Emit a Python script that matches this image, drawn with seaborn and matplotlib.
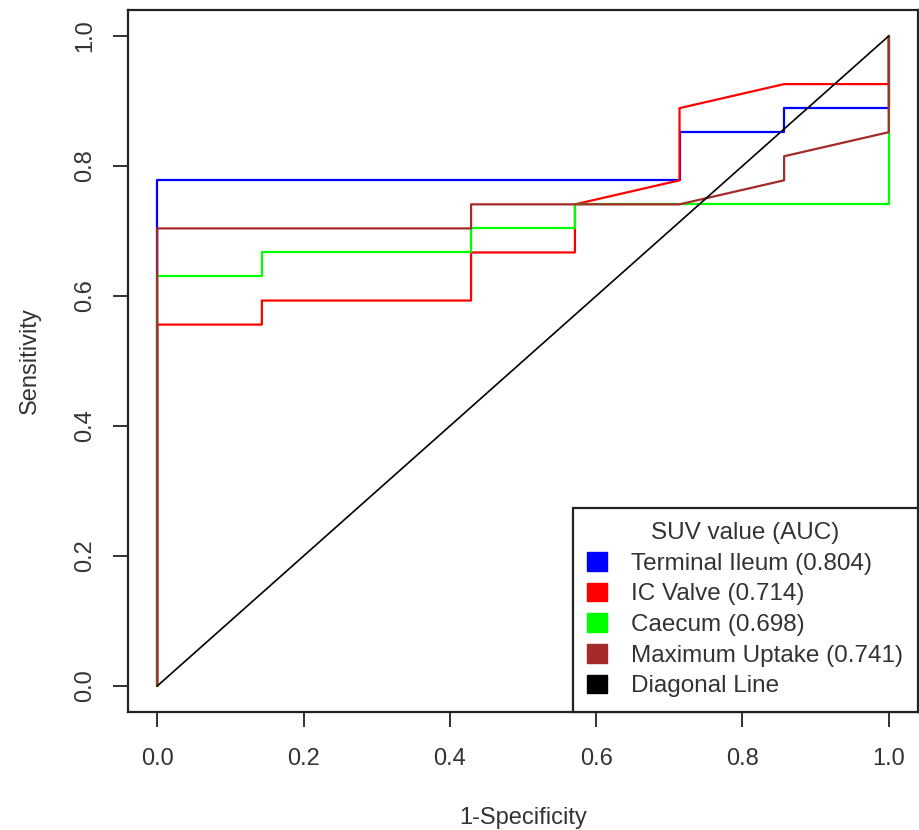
import matplotlib
matplotlib.use("Agg")
import matplotlib.pyplot as plt
from matplotlib.patches import Patch
import seaborn as sns
import pandas as pd

# ROC curves (1-specificity, sensitivity)
ileum_fpr = [0, 0, 0.714, 0.714, 0.857, 0.857, 1, 1]
ileum_tpr = [0, 0.778, 0.778, 0.852, 0.852, 0.889, 0.889, 1]

valve_fpr = [0, 0, 0.143, 0.143, 0.429, 0.429, 0.571, 0.571, 0.714, 0.714, 0.857, 1, 1]
valve_tpr = [0, 0.556, 0.556, 0.593, 0.593, 0.667, 0.667, 0.741, 0.778, 0.889, 0.926, 0.926, 1]

caecum_fpr = [0, 0, 0.143, 0.143, 0.429, 0.429, 0.571, 0.571, 1, 1]
caecum_tpr = [0, 0.630, 0.630, 0.667, 0.667, 0.704, 0.704, 0.741, 0.741, 1]

maxup_fpr = [0, 0, 0.429, 0.429, 0.714, 0.857, 0.857, 1, 1]
maxup_tpr = [0, 0.704, 0.704, 0.741, 0.741, 0.778, 0.815, 0.852, 1]

diag_fpr = [0, 1]
diag_tpr = [0, 1]

labels = ["Terminal Ileum (0.804)", "IC Valve (0.714)", "Caecum (0.698)",
          "Maximum Uptake (0.741)", "Diagonal Line"]
colors = ["#0000FF", "#FF0000", "#00FF00", "#A52A2A", "#000000"]

curves = [(ileum_fpr, ileum_tpr), (valve_fpr, valve_tpr), (caecum_fpr, caecum_tpr),
          (maxup_fpr, maxup_tpr), (diag_fpr, diag_tpr)]

df = pd.concat([
    pd.DataFrame({"fpr": f, "tpr": t, "curve": lab, "order": range(len(f))})
    for (f, t), lab in zip(curves, labels)
], ignore_index=True)

sns.set_theme(style="ticks")
plt.rcParams["font.family"] = ["Liberation Sans", "DejaVu Sans"]

fig = plt.figure(figsize=(9.2, 8.3), dpi=100)
ax = fig.add_axes([128 / 920, 118 / 830, 790 / 920, 702 / 830])

sns.lineplot(data=df, x="fpr", y="tpr", hue="curve", hue_order=labels,
             palette=dict(zip(labels, colors)), estimator=None, sort=False,
             units="curve", linewidth=1.6, legend=False, ax=ax)
ax.lines[-1].set_linewidth(1.2)

ax.set_xlim(-0.04, 1.04)
ax.set_ylim(-0.04, 1.04)
ticks = [0.0, 0.2, 0.4, 0.6, 0.8, 1.0]
ax.set_xticks(ticks)
ax.set_yticks(ticks)
ax.set_xticklabels([f"{t:.1f}" for t in ticks])
ax.set_yticklabels([f"{t:.1f}" for t in ticks], rotation=90, va="center")
ax.tick_params(axis="both", direction="out", length=11, width=1.3,
               colors="#222222", labelsize=17, labelcolor="#333333")
ax.tick_params(axis="x", pad=15)
ax.tick_params(axis="y", pad=12)
for s in ax.spines.values():
    s.set_visible(True)
    s.set_linewidth(1.6)
    s.set_color("#222222")

ax.set_xlabel("1-Specificity", fontsize=17, color="#333333")
ax.set_ylabel("Sensitivity", fontsize=17, color="#333333")
ax.xaxis.set_label_coords(0.5, -0.135)
ax.yaxis.set_label_coords(-0.11, 0.5)

handles = [Patch(facecolor=c, edgecolor=c) for c in colors]
leg = ax.legend(handles, labels, title="SUV value (AUC)", loc="lower right",
                fontsize=17.5, title_fontsize=17.5, frameon=True, fancybox=False,
                edgecolor="#222222", framealpha=1, borderaxespad=0,
                handlelength=0.82, handleheight=0.82, handletextpad=1.0,
                labelspacing=0.32, borderpad=0.6)
leg.get_frame().set_linewidth(1.6)
for t in leg.get_texts():
    t.set_color("#333333")
leg.get_title().set_color("#333333")

fig.savefig("out.png", dpi=100)
